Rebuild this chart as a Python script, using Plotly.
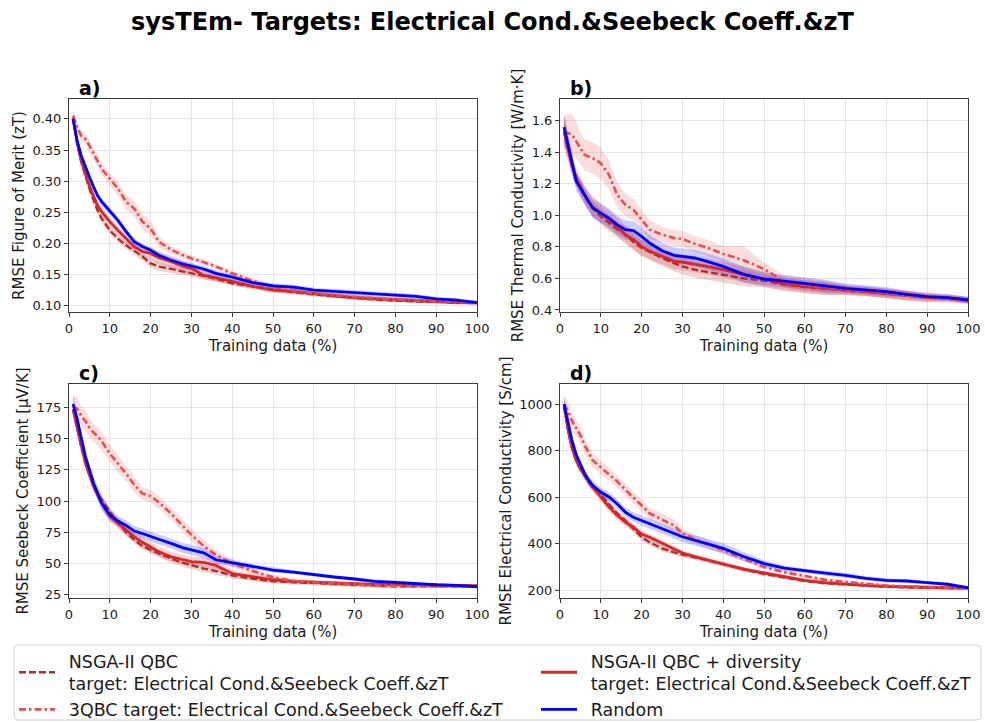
import plotly.graph_objects as go
from plotly.subplots import make_subplots

# Training fraction (%) at which every learner was evaluated
X = [1, 2, 3, 4, 5, 6, 7, 8, 10, 12, 14, 16, 18, 20, 22, 25, 28, 30, 33, 36,
     40, 45, 50, 55, 60, 65, 70, 75, 80, 85, 90, 95, 100]

# ---- a) RMSE figure of merit (zT) ----
zt_nsga = [.400, .360, .331, .308, .288, .270, .253, .240, .221, .208, .197, .188, .179, .168, .163, .159, .155,
           .152, .148, .143, .136, .131, .126, .122, .118, .115, .112, .110, .108, .107, .106, .105, .104]
zt_div = [.402, .362, .333, .311, .293, .276, .261, .251, .235, .221, .208, .195, .187, .184, .177, .171, .163,
          .160, .149, .145, .139, .131, .125, .123, .119, .116, .113, .111, .109, .108, .107, .105, .105]
zt_3qbc = [.405, .387, .373, .368, .357, .344, .333, .320, .304, .288, .267, .256, .235, .224, .203, .190, .181,
           .176, .170, .163, .152, .140, .130, .125, .120, .117, .114, .112, .110, .109, .108, .106, .105]
zt_rand = [.400, .365, .341, .323, .307, .291, .277, .267, .252, .237, .219, .203, .195, .189, .181, .173, .167,
           .164, .159, .152, .146, .137, .132, .130, .125, .123, .121, .118, .116, .115, .111, .109, .105]
zt_nsga_sd = [.008, .007, .006, .006, .006, .006, .006, .006, .006, .006, .006, .006, .006, .007, .007, .007, .006,
              .006, .005, .005, .004, .004, .004, .004, .003, .003, .003, .003, .003, .003, .003, .003, .003]
zt_div_sd = [.010, .008, .007, .007, .007, .008, .008, .008, .008, .008, .008, .008, .009, .010, .010, .010, .009,
             .009, .007, .006, .005, .004, .004, .004, .003, .003, .003, .003, .003, .003, .003, .003, .003]
zt_3qbc_sd = [.010, .008, .008, .009, .009, .009, .010, .010, .010, .011, .012, .012, .013, .012, .009, .006, .006,
              .005, .005, .004, .004, .004, .004, .003, .003, .003, .003, .003, .003, .003, .003, .003, .003]
zt_rand_sd = [.006, .005, .005, .005, .006, .006, .006, .006, .006, .006, .005, .005, .005, .005, .005, .005, .005,
              .005, .005, .005, .005, .004, .004, .004, .004, .004, .004, .004, .004, .004, .003, .003, .003]

# ---- b) RMSE thermal conductivity [W/m·K] ----
kap_nsga = [1.53, 1.42, 1.31, 1.23, 1.17, 1.12, 1.08, 1.045, .992, .950, .910, .880, .830, .792, .765, .729, .695,
            .676, .655, .642, .623, .600, .585, .560, .545, .535, .525, .515, .505, .492, .478, .472, .460]
kap_div = [1.526, 1.414, 1.309, 1.235, 1.180, 1.130, 1.087, 1.055, 1.013, .971, .929, .876, .845, .803, .771, .740,
           .708, .703, .691, .676, .655, .623, .596, .565, .550, .537, .527, .518, .506, .495, .480, .476, .463]
kap_3qbc = [1.53, 1.52, 1.509, 1.467, 1.425, 1.383, 1.372, 1.362, 1.330, 1.256, 1.130, 1.066, 1.035, .971, .908,
            .877, .855, .850, .819, .795, .755, .715, .660, .580, .560, .545, .530, .520, .505, .490, .478, .472, .460]
kap_rand = [1.558, 1.446, 1.320, 1.214, 1.172, 1.130, 1.087, 1.045, 1.013, .982, .940, .908, .902, .866, .824, .775,
            .746, .739, .729, .708, .676, .625, .596, .582, .569, .552, .537, .527, .516, .499, .484, .478, .463]
kap_nsga_sd = [.08, .07, .06, .05, .05, .05, .05, .05, .05, .05, .05, .05, .05, .05, .05, .05, .05,
               .05, .05, .05, .05, .05, .04, .04, .04, .04, .03, .03, .03, .03, .02, .02, .02]
kap_div_sd = [.10, .08, .06, .05, .05, .05, .06, .07, .06, .06, .06, .06, .06, .06, .05, .05, .05,
              .05, .05, .05, .05, .05, .05, .04, .04, .04, .03, .03, .03, .03, .03, .02, .02]
kap_3qbc_sd = [.10, .12, .13, .11, .10, .10, .10, .10, .10, .09, .08, .07, .07, .06, .06, .05, .05,
               .05, .05, .05, .05, .09, .04, .04, .04, .04, .03, .03, .03, .03, .03, .03, .02]
kap_rand_sd = [.08, .07, .06, .06, .06, .06, .06, .06, .06, .06, .06, .06, .06, .05, .05, .05, .05,
               .05, .05, .05, .05, .05, .04, .04, .04, .04, .03, .03, .03, .02, .02, .02, .02]

# ---- c) RMSE Seebeck coefficient [µV/K] ----
see_nsga = [173, 158, 143, 131, 121, 112, 106, 101, 91.7, 82.3, 75, 69, 64, 60.8, 58, 54, 50.5,
            48.7, 46, 44, 40.6, 37.9, 35.8, 35, 34.4, 33.5, 32.7, 32.2, 31.7, 31.7, 31.7, 31.7, 31.7]
see_div = [173.7, 160, 144, 130.6, 121, 111.8, 105, 98.4, 87.6, 82.3, 76.5, 71.5, 67, 63, 59.4, 55.4, 53,
           51.5, 51, 48.5, 42, 39.2, 37, 35.7, 34.9, 34.3, 33.8, 33.3, 33, 32.7, 32.5, 32.3, 32.2]
see_3qbc = [176, 173.7, 168.3, 164.2, 158.9, 154.8, 152, 148, 138, 130, 122, 113, 106, 104, 99, 90, 80,
            73, 64, 57, 50, 44, 39, 36, 35, 34, 33, 32.5, 32, 32, 32, 31.8, 31.6]
see_rand = [177.7, 165.6, 150.8, 136, 125.3, 114.5, 106.5, 98.4, 89, 84, 80.5, 76, 74, 71.5, 69.4, 66.1, 62.5,
            61, 58.5, 53, 50.5, 47.5, 44.8, 43.2, 41, 39.2, 37.6, 35.7, 34.9, 33.8, 33, 32.5, 31.4]
see_nsga_sd = [4, 3, 3, 3, 3, 3, 3, 3, 3, 3, 3, 3, 3, 3, 3, 3, 3,
               3, 3, 3, 2.5, 2, 2, 1.5, 1.5, 1.5, 1.5, 1.5, 1.5, 1, 1, 1, 1]
see_div_sd = [5, 4, 4, 4, 4, 4, 4, 4, 4, 4, 4, 4, 4, 4, 4, 4, 4,
              4, 4, 4, 3, 2.5, 2, 1.5, 1.5, 1.5, 1.5, 1.5, 1.5, 1, 1, 1, 1]
see_3qbc_sd = [9, 9, 8, 8, 8, 7, 7, 7, 7, 7, 6, 6, 5, 5, 5, 5, 5,
               5, 5, 4, 3, 2.5, 2, 2, 1.5, 1.5, 1.5, 1.5, 1.5, 1, 1, 1, 1]
see_rand_sd = [6, 5, 4, 4, 4, 5, 6, 6, 5, 4, 4, 4, 4, 4, 4, 4, 4,
               4, 4, 3, 3, 2, 2, 1.5, 1.5, 1.5, 1.5, 1.5, 1.5, 1, 1, 1, 1]

# ---- d) RMSE electrical conductivity [S/cm] ----
sig_nsga = [990, 885, 805, 755, 718, 690, 662, 640, 610, 572, 530, 500, 464, 428, 406, 380, 363,
            353, 342, 330, 312, 290, 270, 255, 240, 230, 224, 219, 215, 212, 210, 209, 208]
sig_div = [990, 889, 810, 759, 723, 695, 666, 644, 601, 558, 522, 493, 471, 442, 428, 402, 375,
           360, 345, 330, 313, 291, 274, 257, 243, 233, 226, 221, 217, 214, 211, 211, 210]
sig_3qbc = [1000, 968, 925, 896, 867, 824, 788, 759, 728, 700, 668, 632, 600, 565, 530, 505, 478,
            445, 420, 400, 372, 338, 300, 278, 260, 245, 236, 228, 221, 217, 214, 212, 210]
sig_rand = [1000, 918, 839, 781, 738, 702, 673, 651, 622, 601, 572, 536, 514, 500, 486, 464, 445,
            430, 415, 400, 380, 345, 315, 295, 283, 274, 264, 251, 243, 240, 233, 226, 211]
sig_nsga_sd = [30, 25, 20, 18, 16, 15, 15, 15, 15, 15, 15, 15, 15, 15, 14, 13, 12,
               12, 11, 10, 10, 9, 8, 7, 6, 6, 5, 5, 5, 5, 5, 5, 5]
sig_div_sd = [35, 28, 22, 20, 18, 18, 18, 18, 18, 18, 18, 18, 17, 16, 15, 14, 13,
              12, 11, 10, 10, 9, 8, 7, 6, 6, 5, 5, 5, 5, 5, 5, 5]
sig_3qbc_sd = [40, 40, 38, 35, 35, 35, 33, 30, 30, 28, 26, 25, 25, 25, 25, 25, 25,
               22, 20, 18, 15, 12, 10, 8, 8, 7, 6, 6, 6, 5, 5, 5, 5]
sig_rand_sd = [30, 25, 22, 20, 20, 20, 20, 20, 20, 20, 20, 20, 20, 22, 22, 22, 22,
               22, 22, 22, 22, 20, 14, 12, 10, 10, 10, 9, 9, 8, 8, 7, 5]

# Series names as shown in the legend (en-space keeps text clear of the line sample)
PAD = "\u2002"
NAME_NSGA = PAD + "NSGA-II QBC<br>" + PAD + "target: Electrical Cond.&Seebeck Coeff.&zT"
NAME_DIV = PAD + "NSGA-II QBC + diversity<br>" + PAD + "target: Electrical Cond.&Seebeck Coeff.&zT"
NAME_3QBC = PAD + "3QBC target: Electrical Cond.&Seebeck Coeff.&zT"
NAME_RAND = PAD + "Random"

Y_TITLES = ["RMSE Figure of Merit (zT)", "RMSE Thermal Conductivity [W/m·K]",
            "RMSE Seebeck Coefficient [µV/K]", "RMSE Electrical Conductivity [S/cm]"]
PANEL_TAGS = ["a)", "b)", "c)", "d)"]
Y_TICKS = [[0.10, 0.15, 0.20, 0.25, 0.30, 0.35, 0.40],
           [0.4, 0.6, 0.8, 1.0, 1.2, 1.4, 1.6],
           [25, 50, 75, 100, 125, 150, 175],
           [200, 400, 600, 800, 1000]]
Y_TICK_FMT = [".2f", ".1f", "d", "d"]
X_TICKS = [0, 10, 20, 30, 40, 50, 60, 70, 80, 90, 100]

panels = [
    (zt_nsga, zt_nsga_sd, zt_div, zt_div_sd, zt_3qbc, zt_3qbc_sd, zt_rand, zt_rand_sd),
    (kap_nsga, kap_nsga_sd, kap_div, kap_div_sd, kap_3qbc, kap_3qbc_sd, kap_rand, kap_rand_sd),
    (see_nsga, see_nsga_sd, see_div, see_div_sd, see_3qbc, see_3qbc_sd, see_rand, see_rand_sd),
    (sig_nsga, sig_nsga_sd, sig_div, sig_div_sd, sig_3qbc, sig_3qbc_sd, sig_rand, sig_rand_sd),
]
Y_RANGES = [[0.0899, 0.432], [0.387, 1.736], [22.4, 193.7], [167, 1086]]

# ---- styling ----
W, H = 985, 722
FONT = "DejaVu Sans"
C_NSGA = "#b02a2a"
C_DIV = "#d62728"
C_3QBC = "#e05050"
C_RAND = "#0000ff"

def rgba(hex_color, a):
    h = hex_color.lstrip("#")
    r, g, b = int(h[0:2], 16), int(h[2:4], 16), int(h[4:6], 16)
    return f"rgba({r},{g},{b},{a})"

# pixel boxes of the four plotting areas: (left, right, top, bottom)
BOXES = [(69, 477, 99, 312), (560, 968, 99, 312), (69, 477, 384, 598), (560, 968, 384, 598)]

fig = make_subplots(rows=2, cols=2)

series_style = [
    # (name, colour, dash, width, legend)
    (NAME_NSGA, C_NSGA, "7px,3px", 2.3, "legend"),
    (NAME_DIV, C_DIV, "solid", 2.8, "legend2"),
    (NAME_3QBC, C_3QBC, "7px,3px,2.5px,3px", 2.6, "legend"),
    (NAME_RAND, C_RAND, "solid", 2.8, "legend2"),
]

for p, data in enumerate(panels):
    row, col = p // 2 + 1, p % 2 + 1
    # confidence bands first
    for s, (name, color, dash, width, leg) in enumerate(series_style):
        mean, sd = data[2 * s], data[2 * s + 1]
        upper = [m + d for m, d in zip(mean, sd)]
        lower = [m - d for m, d in zip(mean, sd)]
        fig.add_trace(go.Scatter(
            x=X + X[::-1], y=upper + lower[::-1], fill="toself",
            fillcolor=rgba(color, 0.2), line=dict(width=0), mode="lines",
            hoverinfo="skip", showlegend=False), row=row, col=col)
    # mean curves on top
    for s, (name, color, dash, width, leg) in enumerate(series_style):
        mean = data[2 * s]
        fig.add_trace(go.Scatter(
            x=X, y=mean, mode="lines", name=name,
            line=dict(color=color, dash=dash, width=width),
            legend=leg, legendgroup=name, showlegend=(p == 0)), row=row, col=col)

axis_common = dict(
    showline=True, mirror=True, linecolor="#3c3c3c", linewidth=1.1,
    ticks="outside", ticklen=4, tickcolor="#3c3c3c", tickwidth=1,
    showgrid=True, gridcolor="#e4e4e4", gridwidth=1, zeroline=False,
    automargin=False,
    tickfont=dict(family=FONT, size=13, color="#1a1a1a"),
)

for p, (l, r, t, b) in enumerate(BOXES):
    xa = "xaxis" if p == 0 else f"xaxis{p + 1}"
    ya = "yaxis" if p == 0 else f"yaxis{p + 1}"
    fig.layout[xa].update(
        domain=[l / W, r / W], range=[0, 100], tickvals=X_TICKS,
        title=dict(text="Training data (%)", standoff=5,
                   font=dict(family=FONT, size=15, color="#1a1a1a")),
        **axis_common)
    fig.layout[ya].update(
        domain=[1 - b / H, 1 - t / H], range=Y_RANGES[p], tickvals=Y_TICKS[p],
        tickformat=Y_TICK_FMT[p],
        title=dict(text=Y_TITLES[p], standoff=4,
                   font=dict(family=FONT, size=15, color="#1a1a1a")),
        **axis_common)
    fig.add_annotation(
        x=(l + 8) / W, y=1 - (t - 11) / H, xref="paper", yref="paper",
        text=f"<b>{PANEL_TAGS[p]}</b>", showarrow=False, xanchor="left", yanchor="middle",
        font=dict(family=FONT, size=19, color="black"))

# legend frame spanning both legend columns
x0, x1, y0, y1, rad = 14, 981, 645, 720, 4
fig.add_shape(
    type="path", xref="paper", yref="paper",
    path=(f"M {(x0 + rad) / W},{1 - y0 / H} L {(x1 - rad) / W},{1 - y0 / H} "
          f"Q {x1 / W},{1 - y0 / H} {x1 / W},{1 - (y0 + rad) / H} "
          f"L {x1 / W},{1 - (y1 - rad) / H} Q {x1 / W},{1 - y1 / H} {(x1 - rad) / W},{1 - y1 / H} "
          f"L {(x0 + rad) / W},{1 - y1 / H} Q {x0 / W},{1 - y1 / H} {x0 / W},{1 - (y1 - rad) / H} "
          f"L {x0 / W},{1 - (y0 + rad) / H} Q {x0 / W},{1 - y0 / H} {(x0 + rad) / W},{1 - y0 / H} Z"),
    line=dict(color="#d0d0d0", width=1), fillcolor="rgba(255,255,255,0.8)", layer="below")

legend_common = dict(
    orientation="v", yanchor="top", xanchor="left", bgcolor="rgba(0,0,0,0)",
    borderwidth=0, font=dict(family=FONT, size=17.5, color="#1a1a1a"),
    itemwidth=36, tracegroupgap=0, valign="middle",
)

fig.update_layout(
    width=W, height=H,
    margin=dict(l=0, r=0, t=0, b=0, autoexpand=False),
    paper_bgcolor="white", plot_bgcolor="white",
    font=dict(family=FONT, color="#1a1a1a"),
    title=dict(text="<b>sysTEm- Targets: Electrical Cond.&Seebeck Coeff.&zT</b>",
               x=0.5, xanchor="center", y=1 - 22 / H, yanchor="middle",
               font=dict(family=FONT, size=24, color="black")),
    legend=dict(x=14 / W, y=1 - 643 / H, **legend_common),
    legend2=dict(x=536 / W, y=1 - 643 / H, **legend_common),
)

fig.write_html("out.html")
